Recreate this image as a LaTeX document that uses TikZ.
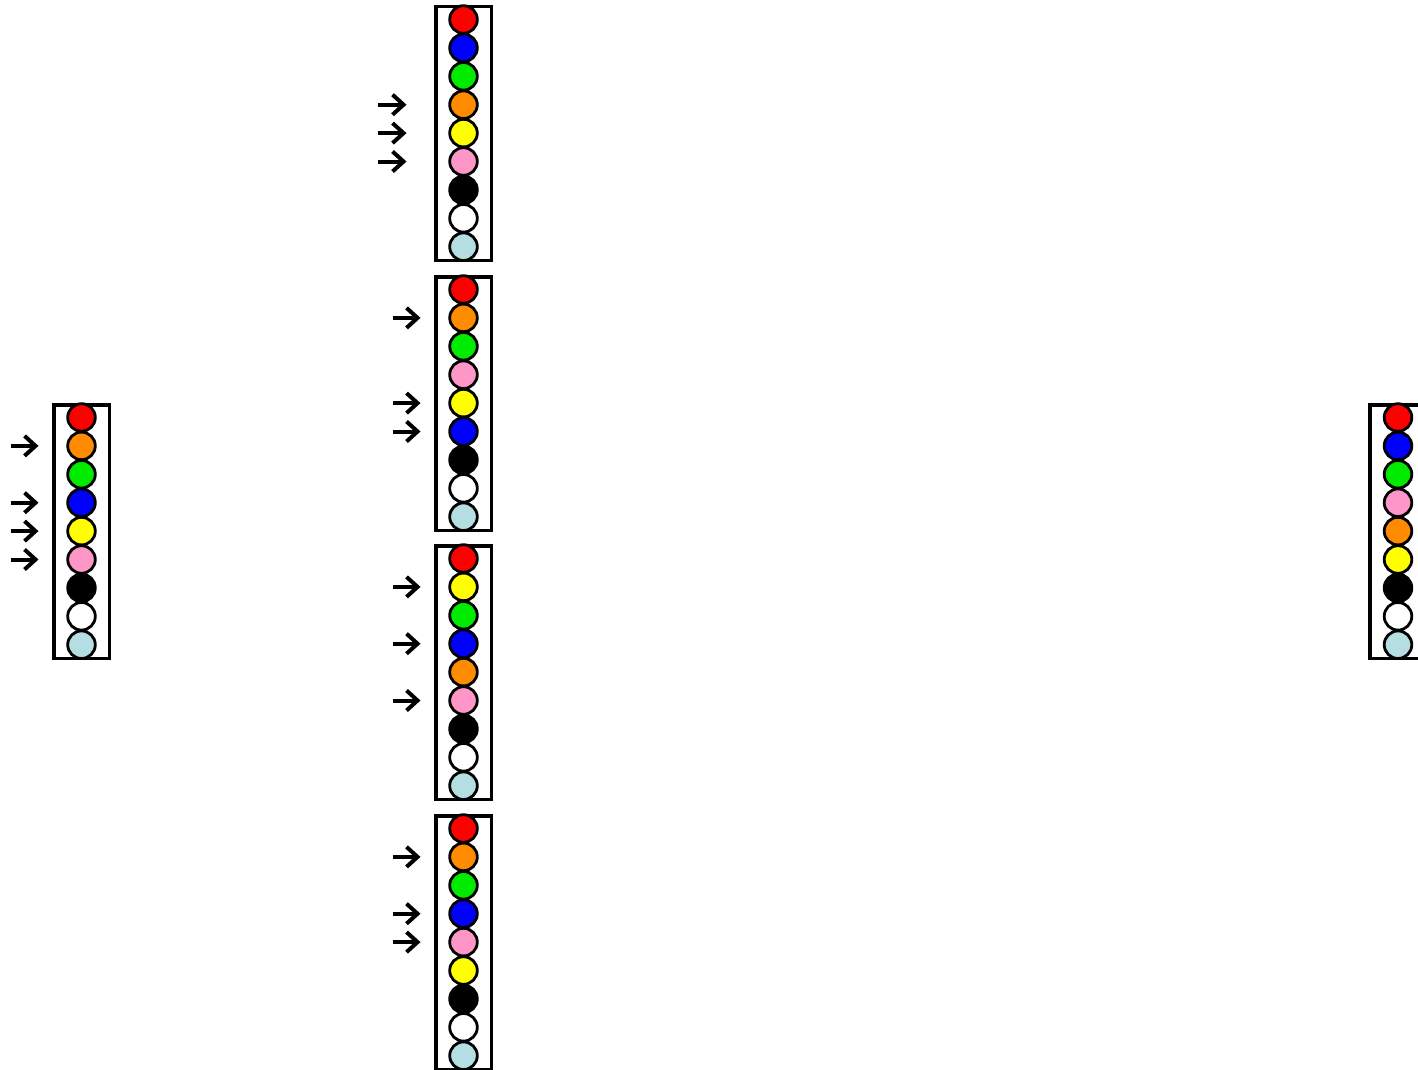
\documentclass[tikz,border=0pt]{standalone}
\usetikzlibrary{arrows.meta,calc}
\definecolor{corange}{RGB}{255,140,0}
\definecolor{cpink}{RGB}{255,150,200}
\definecolor{clb}{RGB}{180,222,225}
\definecolor{cgreen}{RGB}{0,235,0}
\definecolor{cblue}{RGB}{0,0,255}
\definecolor{cred}{RGB}{255,0,0}
\definecolor{cyellow}{RGB}{255,255,0}
\tikzset{
  ball/.style={circle,draw=black,line width=1.4pt,minimum size=13.8pt,inner sep=0pt},
  frame/.style={draw=black,line width=1.8pt,rectangle,minimum width=27.8pt,minimum height=126.8pt,inner sep=0pt},
  arr/.style={line width=2pt,-{Straight Barb[length=5.5pt,width=10pt,line width=2pt]}}
}
\newcommand\mystack[4]{%
  \node[frame] (#1) at (#2,#3+128.5) {};
  \foreach \c [count=\i] in {#4} {
    \node[ball,fill=\c] (#1-\i) at (#2,{#3+14.5+28.4*(\i-1)}) {};
  }
}
\newcommand\myarrows[4]{% name, start offset, end offset, indices
  \foreach \k in {#4} {
    \draw[arr] ($(#1-\k)+(#2,0)$) -- ($(#1-\k)+(#3,0)$);
  }
}
\begin{document}
\begin{tikzpicture}[x=0.5pt,y=-0.5pt]
\useasboundingbox (0,0) rectangle (1418,1070);
\clip (0,0) rectangle (1418,1070);
\fill[white] (0,0) rectangle (1418,1070);
\mystack{L}{81.5}{403}{cred,corange,cgreen,cblue,cyellow,cpink,black,white,clb}
\mystack{A}{463.5}{5}{cred,cblue,cgreen,corange,cyellow,cpink,black,white,clb}
\mystack{B}{463.5}{275}{cred,corange,cgreen,cpink,cyellow,cblue,black,white,clb}
\mystack{C}{463.5}{544}{cred,cyellow,cgreen,cblue,corange,cpink,black,white,clb}
\mystack{D}{463.5}{814}{cred,corange,cgreen,cblue,cpink,cyellow,black,white,clb}
\mystack{R}{1398}{403}{cred,cblue,cgreen,cpink,corange,cyellow,black,white,clb}
\myarrows{L}{-71}{-43}{2,4,5,6}
\myarrows{A}{-86}{-57}{4,5,6}
\myarrows{B}{-71}{-43}{2,5,6}
\myarrows{C}{-71}{-43}{2,4,6}
\myarrows{D}{-71}{-43}{2,4,5}
\end{tikzpicture}
\end{document}
